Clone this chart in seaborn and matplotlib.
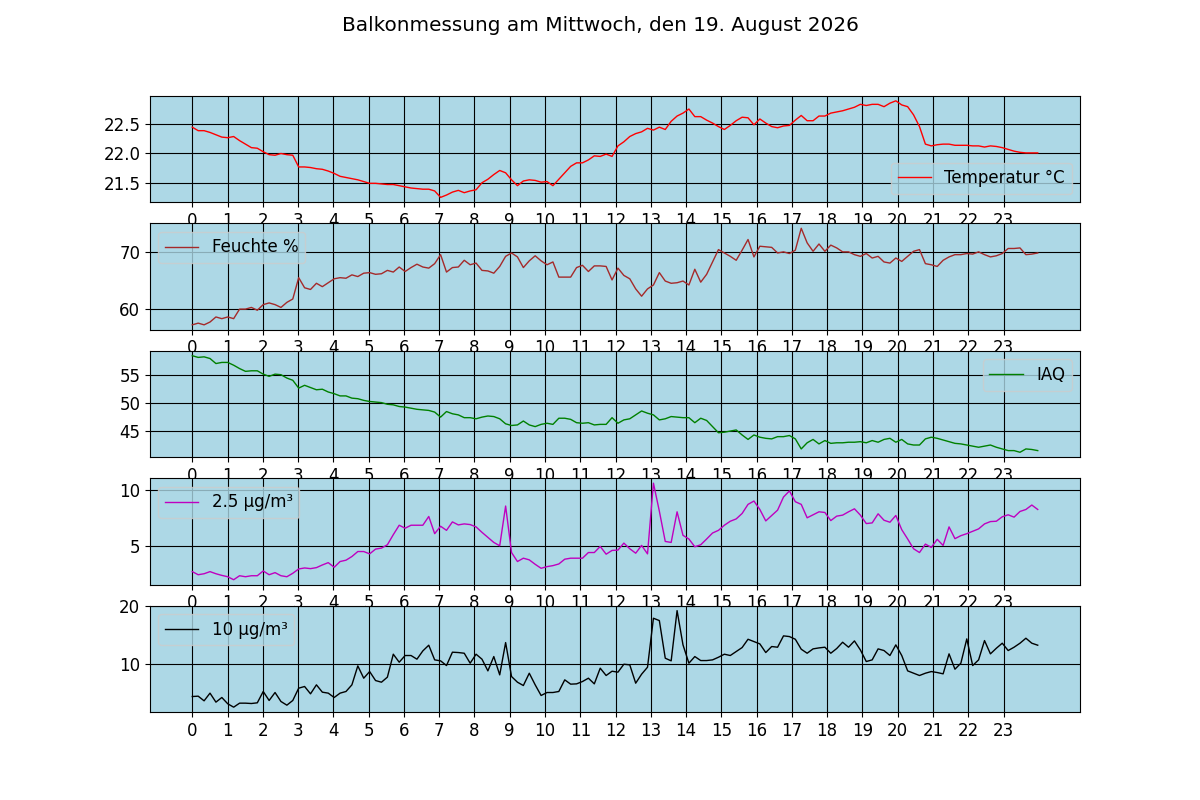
#!/usr/bin/env python3
import matplotlib as mpl
mpl.use('Agg')
import matplotlib.pyplot as plt
import matplotlib.ticker as ticker
import numpy as np
import pandas as pd
import seaborn as sns

plt.rcParams['font.size'] = 12

########## DATA ##########
titel = "Balkonmessung am Mittwoch, den 19. August 2026"

# Messzeitpunkte in Stunden (ca. alle 10 min)
stunden = np.linspace(0, 23.97, 144)

temperatur = [
    22.45, 22.39, 22.39, 22.36, 22.32, 22.28,
    22.27, 22.29, 22.22, 22.16, 22.10, 22.09,
    22.03, 21.98, 21.97, 22.00, 21.98, 21.97,
    21.77, 21.77, 21.76, 21.74, 21.73, 21.70,
    21.66, 21.61, 21.59, 21.57, 21.55, 21.52,
    21.49, 21.49, 21.48, 21.47, 21.47, 21.45,
    21.43, 21.41, 21.40, 21.39, 21.39, 21.36,
    21.25, 21.29, 21.34, 21.37, 21.33, 21.36,
    21.38, 21.50, 21.56, 21.64, 21.71, 21.67,
    21.55, 21.45, 21.53, 21.55, 21.54, 21.51,
    21.52, 21.45, 21.56, 21.67, 21.78, 21.84,
    21.84, 21.89, 21.96, 21.95, 21.99, 21.95,
    22.13, 22.20, 22.29, 22.34, 22.37, 22.43,
    22.40, 22.45, 22.41, 22.55, 22.64, 22.69,
    22.76, 22.63, 22.63, 22.57, 22.52, 22.46,
    22.41, 22.48, 22.56, 22.62, 22.61, 22.49,
    22.59, 22.52, 22.46, 22.44, 22.47, 22.48,
    22.57, 22.65, 22.56, 22.56, 22.64, 22.64,
    22.69, 22.71, 22.73, 22.76, 22.79, 22.84,
    22.82, 22.84, 22.84, 22.80, 22.86, 22.90,
    22.83, 22.80, 22.66, 22.46, 22.16, 22.13,
    22.15, 22.16, 22.16, 22.14, 22.14,
    22.14, 22.13, 22.13, 22.11, 22.13, 22.12,
    22.10, 22.07, 22.04, 22.02, 22.01, 22.01, 22.01,
]

feuchte = [
    57.1, 57.4, 57.1, 57.6, 58.5, 58.2,
    58.5, 58.2, 59.9, 59.9, 60.2, 59.7,
    60.7, 61.0, 60.7, 60.2, 61.1, 61.7,
    65.5, 63.7, 63.4, 64.5, 63.9, 64.6,
    65.3, 65.5, 65.4, 66.0, 65.7, 66.3,
    66.4, 66.1, 66.2, 66.8, 66.5, 67.4,
    66.6, 67.3, 67.9, 67.4, 67.2, 68.0,
    69.6, 66.5, 67.3, 67.4, 68.6, 67.8,
    68.1, 66.8, 66.7, 66.3, 67.5, 69.3,
    69.9, 69.2, 67.3, 68.5, 69.4, 68.5,
    67.8, 68.3, 65.6, 65.6, 65.6, 67.3,
    67.7, 66.6, 67.6, 67.6, 67.5, 65.1,
    67.2, 65.9, 65.3, 63.5, 62.2, 63.5,
    64.2, 66.4, 64.9, 64.5, 64.6, 64.9,
    64.2, 67.0, 64.7, 66.1, 68.3, 70.5,
    69.9, 69.3, 68.6, 70.4, 72.3, 69.2,
    71.1, 71.0, 70.9, 69.9, 70.1, 69.8,
    70.4, 74.3, 71.7, 70.2, 71.5, 70.2,
    71.3, 70.8, 70.1, 70.1, 69.6, 69.3,
    69.8, 69.0, 69.3, 68.3, 68.1, 69.0,
    68.4, 69.3, 70.2, 70.5, 68.0, 67.8,
    67.5, 68.6, 69.2, 69.6, 69.6, 69.8,
    69.7, 70.1, 69.6, 69.2, 69.4, 69.8,
    70.7, 70.7, 70.8, 69.6, 69.7, 69.9,
]

iaq = [
    58.5, 58.2, 58.3, 58.0, 57.1, 57.3,
    57.3, 56.8, 56.2, 55.7, 55.8, 55.8,
    55.2, 54.8, 55.2, 55.1, 54.5, 54.1,
    52.7, 53.2, 52.8, 52.4, 52.5, 52.0,
    51.7, 51.3, 51.3, 50.9, 50.8, 50.5,
    50.3, 50.2, 50.1, 49.8, 49.7, 49.4,
    49.3, 49.1, 48.9, 48.8, 48.7, 48.4,
    47.5, 48.5, 48.1, 47.9, 47.4, 47.4,
    47.2, 47.5, 47.7, 47.6, 47.2, 46.3,
    46.0, 46.1, 46.8, 46.1, 45.8, 46.2,
    46.4, 46.2, 47.3, 47.3, 47.1, 46.5,
    46.4, 46.5, 46.1, 46.2, 46.2, 47.4,
    46.4, 47.0, 47.2, 47.9, 48.6, 48.2,
    47.9, 47.0, 47.2, 47.6, 47.5, 47.4,
    47.4, 46.5, 47.3, 46.9, 45.8, 44.7,
    44.8, 45.0, 45.2, 44.3, 43.5, 44.3,
    43.9, 43.7, 43.6, 44.0, 44.0, 44.2,
    43.6, 41.8, 42.9, 43.5, 42.7, 43.3,
    42.8, 42.9, 42.9, 43.0, 43.0, 43.1,
    42.9, 43.3, 43.0, 43.5, 43.7, 43.0,
    43.5, 42.7, 42.5, 42.5, 43.6, 43.9,
    43.7, 43.4, 43.1, 42.8, 42.7, 42.5,
    42.3, 42.1, 42.3, 42.5, 42.1, 41.8,
    41.5, 41.5, 41.2, 41.8, 41.7, 41.5,
]

pm25 = [
    2.67, 2.39, 2.48, 2.67, 2.48, 2.33,
    2.21, 1.94, 2.30, 2.21, 2.30, 2.30,
    2.73, 2.39, 2.58, 2.30, 2.21, 2.52,
    2.91, 3.00, 2.94, 3.03, 3.27, 3.48,
    3.06, 3.58, 3.70, 4.03, 4.48, 4.48,
    4.27, 4.70, 4.79, 5.09, 6.00, 6.85,
    6.58, 6.85, 6.85, 6.85, 7.64, 6.09,
    6.76, 6.39, 7.15, 6.88, 6.97, 6.91,
    6.70, 6.21, 5.76, 5.30, 5.00, 8.58,
    4.39, 3.58, 3.88, 3.73, 3.33, 2.97,
    3.12, 3.21, 3.36, 3.79, 3.88, 3.88,
    3.88, 4.39, 4.39, 4.94, 4.24, 4.58,
    4.61, 5.24, 4.73, 4.33, 5.03, 4.27,
    10.64, 8.12, 5.39, 5.30, 8.06, 5.94,
    5.61, 4.91, 5.09, 5.61, 6.15, 6.39,
    6.85, 7.21, 7.42, 7.91, 8.73, 9.03,
    8.27, 7.24, 7.73, 8.21, 9.39, 9.94,
    8.97, 8.73, 7.52, 7.79, 8.06, 8.00,
    7.27, 7.67, 7.76, 8.06, 8.33, 7.76,
    7.00, 7.06, 7.88, 7.30, 7.12, 7.73,
    6.45, 5.61, 4.73, 4.39, 5.15, 4.85,
    5.58, 5.03, 6.70, 5.64, 5.91, 6.09,
    6.30, 6.52, 6.97, 7.18, 7.21, 7.61,
    7.79, 7.58, 8.09, 8.27, 8.67, 8.27,
]

pm10 = [
    4.24, 4.30, 3.49, 4.83, 3.26, 4.07,
    2.97, 2.38, 3.08, 3.08, 3.02, 3.14,
    5.12, 3.55, 4.94, 3.37, 2.73, 3.55,
    5.70, 5.99, 4.71, 6.28, 5.00, 4.83,
    4.07, 4.83, 5.12, 6.28, 9.59, 7.44,
    8.60, 7.03, 6.74, 7.62, 11.63, 10.23,
    11.40, 11.40, 10.76, 12.21, 13.20, 10.64,
    10.47, 9.65, 11.98, 11.92, 11.80, 10.06,
    11.63, 10.76, 8.72, 11.22, 8.02, 13.66,
    7.73, 6.74, 6.16, 8.31, 6.28, 4.42,
    4.94, 4.94, 5.12, 7.15, 6.40, 6.45,
    6.86, 7.44, 6.45, 9.19, 7.91, 8.66,
    8.49, 9.88, 9.77, 6.57, 8.14, 9.36,
    17.91, 17.50, 10.93, 10.47, 19.24, 13.26,
    10.06, 11.22, 10.52, 10.52, 10.64, 11.10,
    11.63, 11.40, 12.09, 12.79, 14.24, 13.84,
    13.43, 11.92, 12.97, 12.85, 14.83, 14.71,
    14.24, 12.50, 11.80, 12.56, 12.73, 12.85,
    11.80, 12.62, 13.72, 12.85, 13.95, 12.38,
    10.35, 10.64, 12.56, 12.27, 11.40, 13.26,
    11.40, 8.72, 8.31, 7.91, 8.31, 8.60,
    8.43, 8.20, 11.69, 9.01, 10.06, 14.30,
    9.65, 10.64, 14.01, 11.69, 12.67, 13.55,
    12.27, 12.85, 13.55, 14.42, 13.55, 13.20,
]

stunden_ticks = list(range(24))

df = pd.DataFrame({
    'stunde': stunden,
    'temperatur': temperatur,
    'feuchte': feuchte,
    'iaq': iaq,
    'pm25': pm25,
    'pm10': pm10,
})

# (spalte, legendentext, farbe, legendenposition, y-schritt)
reihen = [
    ('temperatur', 'Temperatur °C', 'red', 'lower right', 0.5),
    ('feuchte', 'Feuchte %', 'brown', 'upper left', 10),
    ('iaq', 'IAQ', 'green', 'upper right', 5),
    ('pm25', '2.5 µg/m³', 'm', 'upper left', 5),
    ('pm10', '10 µg/m³', 'black', 'upper left', 10),
]

########## PLOT ##########
fig, axes = plt.subplots(len(reihen), 1, figsize=(12, 8), dpi=100)
fig.suptitle(titel)

for ax, (spalte, label, farbe, loc, schritt) in zip(axes, reihen):
    ax.set_facecolor('lightblue')
    sns.lineplot(data=df, x='stunde', y=spalte, ax=ax, color=farbe,
                 linewidth=1.0, label=label)
    ax.set(xlabel='', ylabel='')
    ax.set_xticks(stunden_ticks)
    ax.yaxis.set_major_locator(ticker.MultipleLocator(schritt))
    ax.grid(True, color='black', linewidth=0.8)
    ax.set_axisbelow(True)
    ax.legend(loc=loc, facecolor='lightblue')

fig.savefig('out.png', dpi=100)
